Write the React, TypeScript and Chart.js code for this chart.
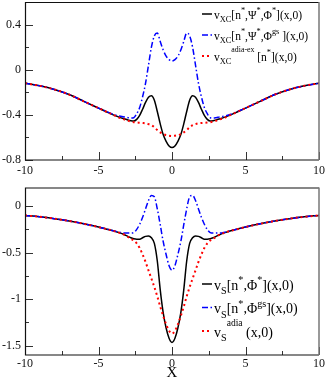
import React, { useEffect, useRef } from "react";
import { Chart, registerables } from "chart.js";
Chart.register(...registerables);

// ---- data ----
const xs = [-10, -9, -8, -7, -6, -5, -4.5, -4, -3.6, -3.2, -3, -2.8, -2.6, -2.4, -2.2, -2, -1.8, -1.6, -1.4, -1.2, -1, -0.8, -0.6, -0.4, -0.2,
  0,
  0.2, 0.4, 0.6, 0.8, 1, 1.2, 1.4, 1.6, 1.8, 2, 2.2, 2.4, 2.6, 2.8, 3, 3.2, 3.6, 4, 4.5, 5, 6, 7, 8, 9, 10];

// top panel
const vxcStar = [-0.12, -0.143, -0.175, -0.22, -0.28, -0.34, -0.37, -0.40, -0.42, -0.437, -0.445, -0.452, -0.455, -0.44, -0.405, -0.35, -0.29, -0.245, -0.23, -0.27, -0.37, -0.48, -0.575, -0.635, -0.675,
  -0.69,
  -0.675, -0.635, -0.575, -0.48, -0.37, -0.27, -0.23, -0.245, -0.29, -0.35, -0.405, -0.44, -0.455, -0.452, -0.445, -0.437, -0.42, -0.40, -0.37, -0.34, -0.28, -0.22, -0.175, -0.143, -0.12];
const vxcGs = [-0.12, -0.143, -0.175, -0.22, -0.28, -0.34, -0.368, -0.395, -0.41, -0.42, -0.425, -0.428, -0.425, -0.39, -0.335, -0.24, -0.12, 0.04, 0.2, 0.3, 0.325, 0.25, 0.175, 0.12, 0.09,
  0.077,
  0.09, 0.12, 0.175, 0.25, 0.325, 0.3, 0.2, 0.04, -0.12, -0.24, -0.335, -0.39, -0.425, -0.428, -0.425, -0.42, -0.41, -0.395, -0.368, -0.34, -0.28, -0.22, -0.175, -0.143, -0.12];
const vxcAdia = [-0.12, -0.143, -0.175, -0.22, -0.28, -0.34, -0.37, -0.40, -0.425, -0.443, -0.452, -0.46, -0.465, -0.468, -0.47, -0.472, -0.475, -0.482, -0.492, -0.51, -0.535, -0.555, -0.57, -0.58, -0.585,
  -0.587,
  -0.585, -0.58, -0.57, -0.555, -0.535, -0.51, -0.492, -0.482, -0.475, -0.472, -0.47, -0.468, -0.465, -0.46, -0.452, -0.443, -0.425, -0.40, -0.37, -0.34, -0.28, -0.22, -0.175, -0.143, -0.12];

// bottom panel
const vsStar = [-0.10, -0.115, -0.135, -0.16, -0.19, -0.225, -0.245, -0.265, -0.285, -0.31, -0.325, -0.34, -0.35, -0.355, -0.355, -0.34, -0.325, -0.32, -0.34, -0.40, -0.59, -0.90, -1.145, -1.31, -1.42,
  -1.465,
  -1.42, -1.31, -1.145, -0.90, -0.59, -0.40, -0.34, -0.32, -0.325, -0.34, -0.355, -0.355, -0.35, -0.34, -0.325, -0.31, -0.285, -0.265, -0.245, -0.225, -0.19, -0.16, -0.135, -0.115, -0.10];
const vsGs = [-0.10, -0.115, -0.135, -0.16, -0.19, -0.225, -0.245, -0.265, -0.28, -0.29, -0.29, -0.29, -0.285, -0.25, -0.195, -0.12, -0.03, 0.06, 0.115, 0.1, -0.03, -0.2, -0.38, -0.52, -0.64,
  -0.69,
  -0.64, -0.52, -0.38, -0.2, -0.03, 0.1, 0.115, 0.06, -0.03, -0.12, -0.195, -0.25, -0.285, -0.29, -0.29, -0.29, -0.28, -0.265, -0.245, -0.225, -0.19, -0.16, -0.135, -0.115, -0.10];
const vsAdia = [-0.10, -0.115, -0.135, -0.16, -0.19, -0.225, -0.245, -0.265, -0.285, -0.31, -0.33, -0.35, -0.37, -0.40, -0.45, -0.52, -0.60, -0.69, -0.78, -0.87, -0.97, -1.08, -1.18, -1.27, -1.34,
  -1.37,
  -1.34, -1.27, -1.18, -1.08, -0.97, -0.87, -0.78, -0.69, -0.60, -0.52, -0.45, -0.40, -0.37, -0.35, -0.33, -0.31, -0.285, -0.265, -0.245, -0.225, -0.19, -0.16, -0.135, -0.115, -0.10];

// ticks
const xMajor = [-10, -5, 0, 5, 10];
const xMinor = [-7.5, -2.5, 2.5, 7.5];
const yMajorTop = [-0.8, -0.4, 0, 0.4];
const yMinorTop = [-0.6, -0.2, 0.2];
const yMajorBot = [-1.5, -1, -0.5, 0];
const yMinorBot = [-1.25, -0.75, -0.25];

type Part = { t: string; s?: "sub" | "sup" | "sup2" };
const legendTop: Part[][] = [
  [{ t: "v" }, { t: "XC", s: "sub" }, { t: "[n" }, { t: "*", s: "sup" }, { t: ",Ψ" }, { t: "*", s: "sup" }, { t: ",Φ" }, { t: "*", s: "sup" }, { t: "](x,0)" }],
  [{ t: "v" }, { t: "XC", s: "sub" }, { t: "[n" }, { t: "*", s: "sup" }, { t: ",Ψ" }, { t: "*", s: "sup" }, { t: ",Φ" }, { t: "gs", s: "sup" }, { t: " ](x,0)" }],
  [{ t: "v" }, { t: "XC", s: "sub" }, { t: "adia-ex", s: "sup2" }, { t: " [n" }, { t: "*", s: "sup" }, { t: "](x,0)" }],
];
const legendBot: Part[][] = [
  [{ t: "v" }, { t: "S", s: "sub" }, { t: "[n" }, { t: "*", s: "sup" }, { t: ",Φ" }, { t: "*", s: "sup" }, { t: "](x,0)" }],
  [{ t: "v" }, { t: "S", s: "sub" }, { t: "[n" }, { t: "*", s: "sup" }, { t: ",Φ" }, { t: "gs", s: "sup" }, { t: "](x,0)" }],
  [{ t: "v" }, { t: "S", s: "sub" }, { t: "adia", s: "sup2" }, { t: " (x,0)" }],
];

const FONT = '"Liberation Serif", "DejaVu Serif", serif';
const styles = [
  { color: "#000000", dash: [] as number[], width: 1.5 },
  { color: "#0000ff", dash: [6, 2.5, 1.5, 2.5], width: 1.5 },
  { color: "#ff0000", dash: [2, 3], width: 2 },
];

function drawRich(ctx: CanvasRenderingContext2D, parts: Part[], x: number, y: number, base: number) {
  let cx = x;
  const k = base / 11;
  for (const p of parts) {
    let size = base, dy = 0;
    if (p.s === "sub") { size = 8 * k; dy = 3.5 * k; }
    else if (p.s === "sup") { size = 8 * k; dy = -5 * k; }
    else if (p.s === "sup2") { size = 7.5 * k; dy = -8 * k; }
    ctx.font = `${size}px ${FONT}`;
    ctx.fillText(p.t, cx, y + dy);
    cx += ctx.measureText(p.t).width;
  }
}

function makeChart(canvas: HTMLCanvasElement, cfg: any) {
  const series = [cfg.a, cfg.b, cfg.c];
  const framePlugin = {
    id: "frame" + cfg.id,
    afterDatasetsDraw(chart: any) {
      const { ctx, chartArea: a, scales } = chart;
      const xS = scales.x, yS = scales.y;
      ctx.save();
      // ticks
      ctx.strokeStyle = "#333";
      ctx.lineWidth = 1;
      const tick = (x1: number, y1: number, x2: number, y2: number) => {
        ctx.beginPath(); ctx.moveTo(x1, y1); ctx.lineTo(x2, y2); ctx.stroke();
      };
      xMajor.forEach((v) => { const p = Math.round(xS.getPixelForValue(v)) + 0.5; tick(p, a.bottom, p, a.bottom - 8); });
      xMinor.forEach((v) => { const p = Math.round(xS.getPixelForValue(v)) + 0.5; tick(p, a.bottom, p, a.bottom - 4); });
      cfg.yMajor.forEach((v: number) => { const p = Math.round(yS.getPixelForValue(v)) + 0.5; tick(a.left, p, a.left + 8, p); });
      cfg.yMinor.forEach((v: number) => { const p = Math.round(yS.getPixelForValue(v)) + 0.5; tick(a.left, p, a.left + 4, p); });
      // frame
      ctx.strokeStyle = "#111";
      ctx.lineWidth = 1.2;
      ctx.beginPath();
      ctx.moveTo(a.right, a.top + 0.5);
      ctx.lineTo(a.left + 0.5, a.top + 0.5);
      ctx.lineTo(a.left + 0.5, a.bottom);
      ctx.lineTo(a.right, a.bottom);
      ctx.stroke();
      ctx.strokeStyle = "#777";
      ctx.lineWidth = 1.5;
      ctx.beginPath();
      ctx.moveTo(a.right, a.top);
      ctx.lineTo(a.right, a.bottom);
      ctx.stroke();
      // legend
      ctx.fillStyle = "#000";
      ctx.textBaseline = "alphabetic";
      cfg.legend.forEach((parts: Part[], i: number) => {
        const ly = cfg.legendY[i];
        const st = styles[i];
        ctx.strokeStyle = st.color;
        ctx.lineWidth = st.width;
        ctx.setLineDash(st.dash);
        ctx.beginPath();
        ctx.moveTo(202, ly);
        ctx.lineTo(212, ly);
        ctx.stroke();
        ctx.setLineDash([]);
        drawRich(ctx, parts, 214, ly + cfg.legendFont * 0.4, cfg.legendFont);
      });
      ctx.restore();
    },
  };
  return new Chart(canvas, {
    type: "line",
    data: {
      datasets: series.map((arr: number[], i: number) => ({
        data: xs.map((x, k) => ({ x, y: arr[k] })),
        borderColor: styles[i].color,
        borderWidth: styles[i].width,
        borderDash: styles[i].dash,
        pointRadius: 0,
        fill: false,
        cubicInterpolationMode: "monotone",
        order: 3 - i,
      })),
    },
    options: {
      animation: false,
      responsive: false,
      devicePixelRatio: 1,
      layout: { padding: { top: cfg.padTop, right: 8, left: 0, bottom: 0 } },
      plugins: { legend: { display: false }, tooltip: { enabled: false } },
      scales: {
        x: {
          type: "linear",
          min: -10,
          max: 10,
          afterBuildTicks: (axis: any) => { axis.ticks = xMajor.map((v) => ({ value: v })); },
          afterFit: (axis: any) => { axis.height = cfg.xAxisH; axis.paddingLeft = 0; axis.paddingRight = 0; },
          grid: { display: false, drawTicks: false },
          border: { display: false },
          ticks: { padding: cfg.xPad, color: "#111", font: { family: FONT, size: 12 }, maxRotation: 0, callback: (v: any) => String(v) },
          title: cfg.xTitle
            ? { display: true, text: "X", color: "#000", font: { family: FONT, size: 15 }, padding: { top: 0, bottom: 0 } }
            : { display: false },
        },
        y: {
          type: "linear",
          min: cfg.yMin,
          max: cfg.yMax,
          afterBuildTicks: (axis: any) => { axis.ticks = cfg.yMajor.map((v: number) => ({ value: v })); },
          afterFit: (axis: any) => { axis.width = 25; axis.paddingTop = 0; axis.paddingBottom = 0; },
          grid: { display: false, drawTicks: false },
          border: { display: false },
          ticks: { padding: 4, color: "#111", font: { family: FONT, size: 12 }, callback: (v: any) => String(v) },
        },
      },
    },
    plugins: [framePlugin],
  } as any);
}

export default function App() {
  const topRef = useRef<HTMLCanvasElement>(null);
  const botRef = useRef<HTMLCanvasElement>(null);
  useEffect(() => {
    const c1 = makeChart(topRef.current!, {
      id: "top", a: vxcStar, b: vxcGs, c: vxcAdia,
      yMin: -0.8, yMax: 0.6, yMajor: yMajorTop, yMinor: yMinorTop,
      padTop: 2, xAxisH: 22, xTitle: false, xPad: 4,
      legend: legendTop, legendY: [14, 35, 56], legendFont: 11.5,
    });
    const c2 = makeChart(botRef.current!, {
      id: "bot", a: vsStar, b: vsGs, c: vsAdia,
      yMin: -1.6, yMax: 0.2, yMajor: yMajorBot, yMinor: yMinorBot,
      padTop: 5.5, xAxisH: 27, xTitle: true, xPad: 2,
      legend: legendBot, legendY: [102, 125.5, 149], legendFont: 14,
    });
    return () => { c1.destroy(); c2.destroy(); };
  }, []);
  return (
    <div style={{ position: "fixed", left: 0, top: 0, width: 327, height: 382, background: "#fff" }}>
      <canvas ref={topRef} width={327} height={182} style={{ position: "absolute", left: 0, top: 0, width: 327, height: 182 }} />
      <canvas ref={botRef} width={327} height={200} style={{ position: "absolute", left: 0, top: 182, width: 327, height: 200 }} />
    </div>
  );
}
